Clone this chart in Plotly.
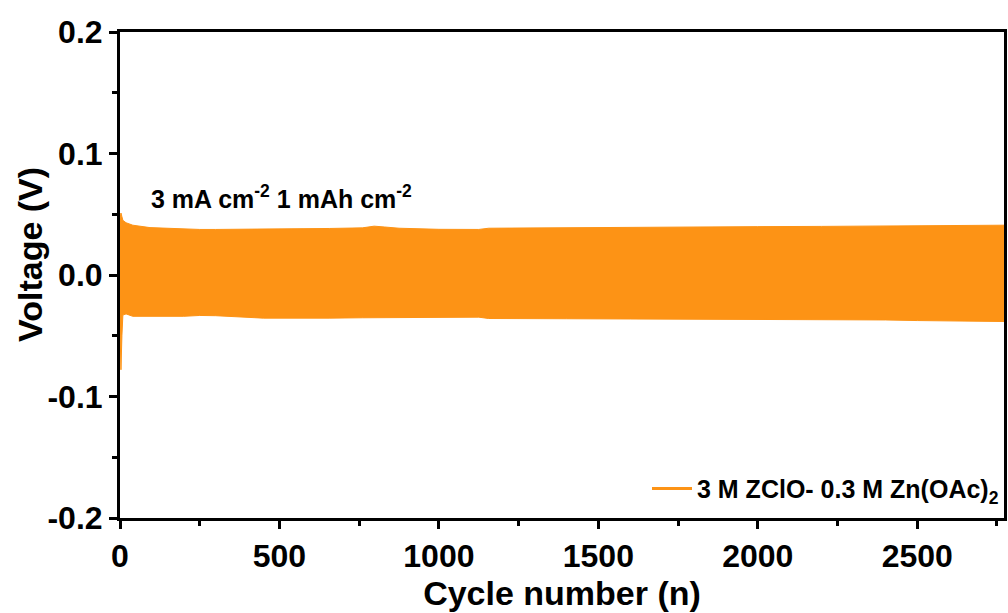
import plotly.graph_objects as go

# Cycle index and the upper/lower voltage envelope of the galvanostatic band
cycle = [0, 3, 6, 9, 19, 40, 94, 200, 250, 300,
         450, 560, 656, 760, 797, 830, 875, 1000, 1125, 1156,
         1400, 1600, 1812, 2000, 2200, 2400, 2500, 2600, 2772]
v_upper = [0.046, 0.051, 0.048, 0.045, 0.043, 0.041, 0.039, 0.0378, 0.0375, 0.0375,
           0.0376, 0.0378, 0.0383, 0.0388, 0.0402, 0.0395, 0.0385, 0.0376, 0.0375, 0.0385,
           0.0387, 0.0390, 0.0396, 0.0398, 0.0400, 0.0402, 0.0403, 0.0405, 0.0410]
v_lower = [-0.045, -0.078, -0.050, -0.033, -0.032, -0.034, -0.0342, -0.034, -0.0333, -0.0335,
           -0.0355, -0.0355, -0.0355, -0.0352, -0.0350, -0.0350, -0.0350, -0.0347, -0.0347, -0.0358,
           -0.0360, -0.0362, -0.0369, -0.0369, -0.0369, -0.0370, -0.0375, -0.0380, -0.0383]

x_ticks = [0, 500, 1000, 1500, 2000, 2500]
x_ticktext = ["0", "500", "1000", "1500", "2000", "2500"]
y_ticks = [-0.2, -0.1, 0.0, 0.1, 0.2]
y_ticktext = ["-0.2", "-0.1", "0.0", "0.1", "0.2"]

series_name = "<b>3 M ZClO- 0.3 M Zn(OAc)<sub>2</sub></b>"
condition = "<b>3 mA cm<sup>-2</sup> 1 mAh cm<sup>-2</sup></b>"

ORANGE = "#FD9315"
FONT = "Arial, Liberation Sans, sans-serif"

fig = go.Figure()

# Dense charge/discharge oscillation shown as the filled envelope
fig.add_trace(go.Scatter(
    x=cycle + cycle[::-1],
    y=v_upper + v_lower[::-1],
    fill="toself",
    fillcolor=ORANGE,
    line=dict(color=ORANGE, width=1),
    mode="lines",
    showlegend=False,
    hoverinfo="skip",
))

# Legend entry drawn as a plain line
fig.add_trace(go.Scatter(
    x=[None], y=[None], mode="lines",
    line=dict(color=ORANGE, width=3),
    name=series_name,
))

axis_common = dict(
    showline=True, linecolor="black", linewidth=3, mirror=True,
    ticks="outside", ticklen=8, tickwidth=3, tickcolor="black",
    showgrid=False, zeroline=False,
    tickfont=dict(family=FONT, size=32, color="black", weight="bold"),
)

fig.update_xaxes(
    range=[0, 2772], tickvals=x_ticks, ticktext=x_ticktext,
    minor=dict(ticks="outside", ticklen=5, tickwidth=3, dtick=250, tick0=0, tickcolor="black"),
    title=dict(text="<b>Cycle number (n)</b>", font=dict(family=FONT, size=34, color="black"), standoff=6),
    **axis_common,
)
fig.update_yaxes(
    range=[-0.2, 0.2], tickvals=y_ticks, ticktext=y_ticktext,
    minor=dict(ticks="outside", ticklen=5, tickwidth=3, dtick=0.05, tick0=0, tickcolor="black"),
    **axis_common,
)

fig.add_annotation(
    x=90, y=0.064, xref="x", yref="y", text=condition, showarrow=False,
    xanchor="left", yanchor="middle",
    font=dict(family=FONT, size=25, color="black"),
)
fig.add_annotation(
    x=-0.102, y=0.543, xref="paper", yref="paper", text="<b>Voltage (V)</b>",
    textangle=-90, showarrow=False, xanchor="center", yanchor="middle",
    font=dict(family=FONT, size=34, color="black"),
)

fig.update_layout(
    width=1008, height=613,
    margin=dict(l=120, r=1, t=32, b=95),
    plot_bgcolor="white", paper_bgcolor="white",
    legend=dict(
        x=1.0, y=0.06, xanchor="right", yanchor="middle",
        bgcolor="rgba(0,0,0,0)", borderwidth=0,
        font=dict(family=FONT, size=25, color="black"),
        itemwidth=40,
    ),
)

fig.write_html("out.html")
